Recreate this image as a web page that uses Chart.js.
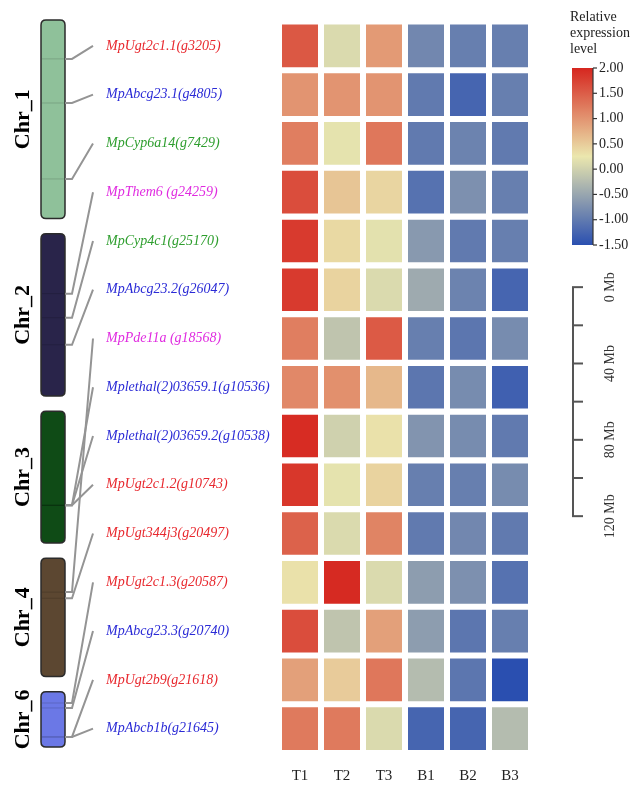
<!DOCTYPE html>
<html>
<head>
<meta charset="utf-8">
<script src="https://cdn.jsdelivr.net/npm/chart.js@4.4.1/dist/chart.umd.min.js"></script>
<style>
  html, body { margin: 0; padding: 0; background: #fff; }
</style>
</head>
<body>
<canvas id="heat" width="633" height="787"></canvas>
<script>
// ---- data ----
var samples = ['T1', 'T2', 'T3', 'B1', 'B2', 'B3'];
var genes = ['MpUgt2c1.1(g3205)', 'MpAbcg23.1(g4805)', 'MpCyp6a14(g7429)', 'MpThem6 (g24259)',
  'MpCyp4c1(g25170)', 'MpAbcg23.2(g26047)', 'MpPde11a (g18568)', 'Mplethal(2)03659.1(g10536)',
  'Mplethal(2)03659.2(g10538)', 'MpUgt2c1.2(g10743)', 'MpUgt344j3(g20497)', 'MpUgt2c1.3(g20587)',
  'MpAbcg23.3(g20740)', 'MpUgt2b9(g21618)', 'MpAbcb1b(g21645)'];
var geneGroup = [0, 1, 2, 3, 2, 1, 3, 1, 1, 0, 0, 0, 1, 0, 1];

var T1 = [1.55, 1.0, 1.2, 1.65, 1.82, 1.82, 1.2, 1.11, 1.95, 1.85, 1.46, 0.3, 1.65, 0.89, 1.24];
var T2 = [0.1, 1.0, 0.2, 0.56, 0.38, 0.43, -0.15, 1.04, 0.0, 0.2, 0.1, 1.96, -0.15, 0.5, 1.24];
var T3 = [0.95, 1.0, 1.27, 0.41, 0.18, 0.1, 1.53, 0.68, 0.3, 0.43, 1.15, 0.1, 0.89, 1.27, 0.1];
var B1 = [-0.85, -1.0, -1.0, -1.1, -0.65, -0.45, -0.95, -1.05, -0.7, -0.95, -1.0, -0.6, -0.6, -0.25, -1.25];
var B2 = [-0.95, -1.25, -0.9, -0.75, -1.0, -0.9, -1.05, -0.8, -0.8, -0.95, -0.85, -0.75, -1.05, -1.05, -1.25];
var B3 = [-0.95, -0.95, -1.0, -0.95, -0.95, -1.25, -0.8, -1.3, -1.0, -0.8, -1.0, -1.1, -0.95, -1.5, -0.25];
var series = [T1, T2, T3, B1, B2, B3];

var chrNames = ['Chr_1', 'Chr_2', 'Chr_3', 'Chr_4', 'Chr_6'];
var chrLengthMb = [104, 85, 69, 62, 29];
var geneChr = [0, 0, 0, 1, 1, 1, 3, 2, 2, 2, 3, 4, 4, 4, 4];
var genePosMb = [20.4, 43.5, 83.3, 31.4, 44, 58.2, 17.8, 49.3, 49.3, 49.3, 21, 5.9, 8.5, 23.7, 23.7];

var legendTicks = [2, 1.5, 1, 0.5, 0, -0.5, -1, -1.5];
var scaleTicksMb = [0, 20, 40, 60, 80, 100, 120];
var scaleLabelsMb = [0, 40, 80, 120];

// ---- style ----
var groupColors = ['#e8282e', '#2b2bd6', '#2e9e2e', '#e02be0'];
var chrColors = ['#8fc19a', '#29244a', '#0f4b16', '#5c4731', '#6b78e6'];
var CHR_GAP = 8;        // Mb between stacked chromosomes
var SCALE_TOP = 140;    // where the Mb scale bar starts on the hidden axis
var SERIF = '"Liberation Serif", "Times New Roman", serif';
var colorStops = [[-1.5, [42, 79, 176]], [0.25, [235, 231, 174]], [2, [214, 38, 31]]];

function colormap(v) {
  v = Math.max(-1.5, Math.min(2, v));
  for (var i = 0; i < colorStops.length - 1; i++) {
    var a = colorStops[i], b = colorStops[i + 1];
    if (v <= b[0]) {
      var t = (v - a[0]) / (b[0] - a[0]);
      var c = a[1].map(function(x, k) { return Math.round(x + (b[1][k] - x) * t); });
      return 'rgb(' + c.join(',') + ')';
    }
  }
}

function roundBox(ctx, x, y, w, h, r) {
  ctx.beginPath();
  ctx.moveTo(x + r, y);
  ctx.lineTo(x + w - r, y);
  ctx.quadraticCurveTo(x + w, y, x + w, y + r);
  ctx.lineTo(x + w, y + h - r);
  ctx.quadraticCurveTo(x + w, y + h, x + w - r, y + h);
  ctx.lineTo(x + r, y + h);
  ctx.quadraticCurveTo(x, y + h, x, y + h - r);
  ctx.lineTo(x, y + r);
  ctx.quadraticCurveTo(x, y, x + r, y);
  ctx.closePath();
}

var decor = {
  id: 'decor',
  afterDraw: function(chart) {
    var ctx = chart.ctx, ys = chart.scales.y, mb = chart.scales.mb;
    var startMb = [], acc = 0;
    chrLengthMb.forEach(function(len) { startMb.push(acc); acc += len + CHR_GAP; });

    // chromosomes
    ctx.save();
    chrNames.forEach(function(name, c) {
      var top = mb.getPixelForValue(startMb[c]);
      var bot = mb.getPixelForValue(startMb[c] + chrLengthMb[c]);
      roundBox(ctx, 41, top, 24, bot - top, 5);
      ctx.fillStyle = chrColors[c];
      ctx.fill();
      ctx.lineWidth = 1.5;
      ctx.strokeStyle = '#2b2b2b';
      ctx.stroke();
      ctx.save();
      ctx.translate(23, (top + bot) / 2);
      ctx.rotate(-Math.PI / 2);
      ctx.font = 'bold 22px ' + SERIF;
      ctx.fillStyle = '#000';
      ctx.textAlign = 'center';
      ctx.textBaseline = 'middle';
      ctx.fillText(name, 0, 0);
      ctx.restore();
    });

    // gene marks and connectors
    genes.forEach(function(g, i) {
      var ty = mb.getPixelForValue(startMb[geneChr[i]] + genePosMb[i]);
      var ly = ys.getPixelForValue(i);
      ctx.strokeStyle = 'rgba(0,0,0,0.15)';
      ctx.lineWidth = 1;
      ctx.beginPath(); ctx.moveTo(42, ty); ctx.lineTo(64, ty); ctx.stroke();
      ctx.strokeStyle = '#949494';
      ctx.lineWidth = 2;
      ctx.beginPath(); ctx.moveTo(65, ty); ctx.lineTo(72, ty); ctx.lineTo(93, ly); ctx.stroke();
    });

    // colour bar legend
    var cbTop = 68, cbBot = 245, cbX = 572, cbW = 21;
    var lo = legendTicks[legendTicks.length - 1], hi = legendTicks[0];
    var grad = ctx.createLinearGradient(0, cbTop, 0, cbBot);
    for (var s = 0; s <= 40; s++) {
      grad.addColorStop(s / 40, colormap(hi - (hi - lo) * s / 40));
    }
    ctx.fillStyle = grad;
    ctx.fillRect(cbX, cbTop, cbW, cbBot - cbTop);
    ctx.strokeStyle = '#333';
    ctx.lineWidth = 1.2;
    ctx.beginPath(); ctx.moveTo(cbX + cbW, cbTop); ctx.lineTo(cbX + cbW, cbBot); ctx.stroke();
    ctx.font = '14px ' + SERIF;
    ctx.fillStyle = '#222';
    ctx.textAlign = 'left';
    ctx.textBaseline = 'middle';
    legendTicks.forEach(function(v) {
      var py = cbTop + (hi - v) / (hi - lo) * (cbBot - cbTop);
      ctx.beginPath(); ctx.moveTo(cbX + cbW, py); ctx.lineTo(cbX + cbW + 4, py); ctx.stroke();
      ctx.fillText(v.toFixed(2), cbX + cbW + 6, py);
    });
    ['Relative', 'expression', 'level'].forEach(function(t, k) {
      ctx.fillText(t, 570, 17 + k * 16);
    });

    // Mb scale bar
    var sx = 573;
    var y0 = mb.getPixelForValue(SCALE_TOP);
    var y1 = mb.getPixelForValue(SCALE_TOP + scaleTicksMb[scaleTicksMb.length - 1]);
    ctx.strokeStyle = '#555';
    ctx.lineWidth = 2;
    ctx.beginPath(); ctx.moveTo(sx, y0); ctx.lineTo(sx, y1); ctx.stroke();
    scaleTicksMb.forEach(function(t) {
      var py = mb.getPixelForValue(SCALE_TOP + t);
      ctx.beginPath(); ctx.moveTo(sx - 1, py); ctx.lineTo(sx + 10, py); ctx.stroke();
    });
    ctx.fillStyle = '#333';
    ctx.font = '14px ' + SERIF;
    ctx.textAlign = 'center';
    scaleLabelsMb.forEach(function(t) {
      var py = mb.getPixelForValue(SCALE_TOP + t);
      ctx.save();
      ctx.translate(610, py);
      ctx.rotate(-Math.PI / 2);
      ctx.fillText(t + ' Mb', 0, 0);
      ctx.restore();
    });
    ctx.restore();
  }
};

var gapX = 3 / 42;
var datasets = samples.map(function(name, i) {
  return {
    label: name,
    data: genes.map(function() { return [i + gapX, i + 1 - gapX]; }),
    backgroundColor: series[i].map(colormap),
    borderWidth: 0,
    borderSkipped: false,
    grouped: false,
    categoryPercentage: 1,
    barPercentage: 0.874
  };
});

new Chart(document.getElementById('heat'), {
  type: 'bar',
  data: { labels: genes, datasets: datasets },
  plugins: [decor],
  options: {
    responsive: false,
    animation: false,
    indexAxis: 'y',
    layout: { padding: { left: 106, right: 102, top: 21.5, bottom: 0 } },
    plugins: { legend: { display: false }, tooltip: { enabled: false } },
    scales: {
      x: {
        type: 'linear', position: 'bottom', min: 0, max: samples.length,
        grid: { display: false, drawTicks: false }, border: { display: false },
        afterBuildTicks: function(axis) {
          axis.ticks = samples.map(function(s, i) { return { value: i + 0.5 }; });
        },
        afterFit: function(axis) { axis.height = 34; },
        ticks: {
          padding: 14, color: '#222', maxRotation: 0,
          font: { family: SERIF, size: 15 },
          callback: function(v, idx) { return samples[idx]; }
        }
      },
      y: {
        type: 'category', position: 'left',
        grid: { display: false, drawTicks: false }, border: { display: false },
        afterFit: function(axis) { axis.width = 173; },
        ticks: {
          autoSkip: false, crossAlign: 'far',
          color: function(c) { return groupColors[geneGroup[c.index]]; },
          font: { family: SERIF, size: 14, style: 'italic' }
        }
      },
      mb: {
        type: 'linear', position: 'right', axis: 'y', reverse: true, offset: false,
        min: 0.8, max: 384.1,
        grid: { display: false, drawTicks: false }, border: { display: false },
        ticks: { display: false },
        afterFit: function(axis) { axis.width = 0; }
      }
    }
  }
});
</script>
</body>
</html>
